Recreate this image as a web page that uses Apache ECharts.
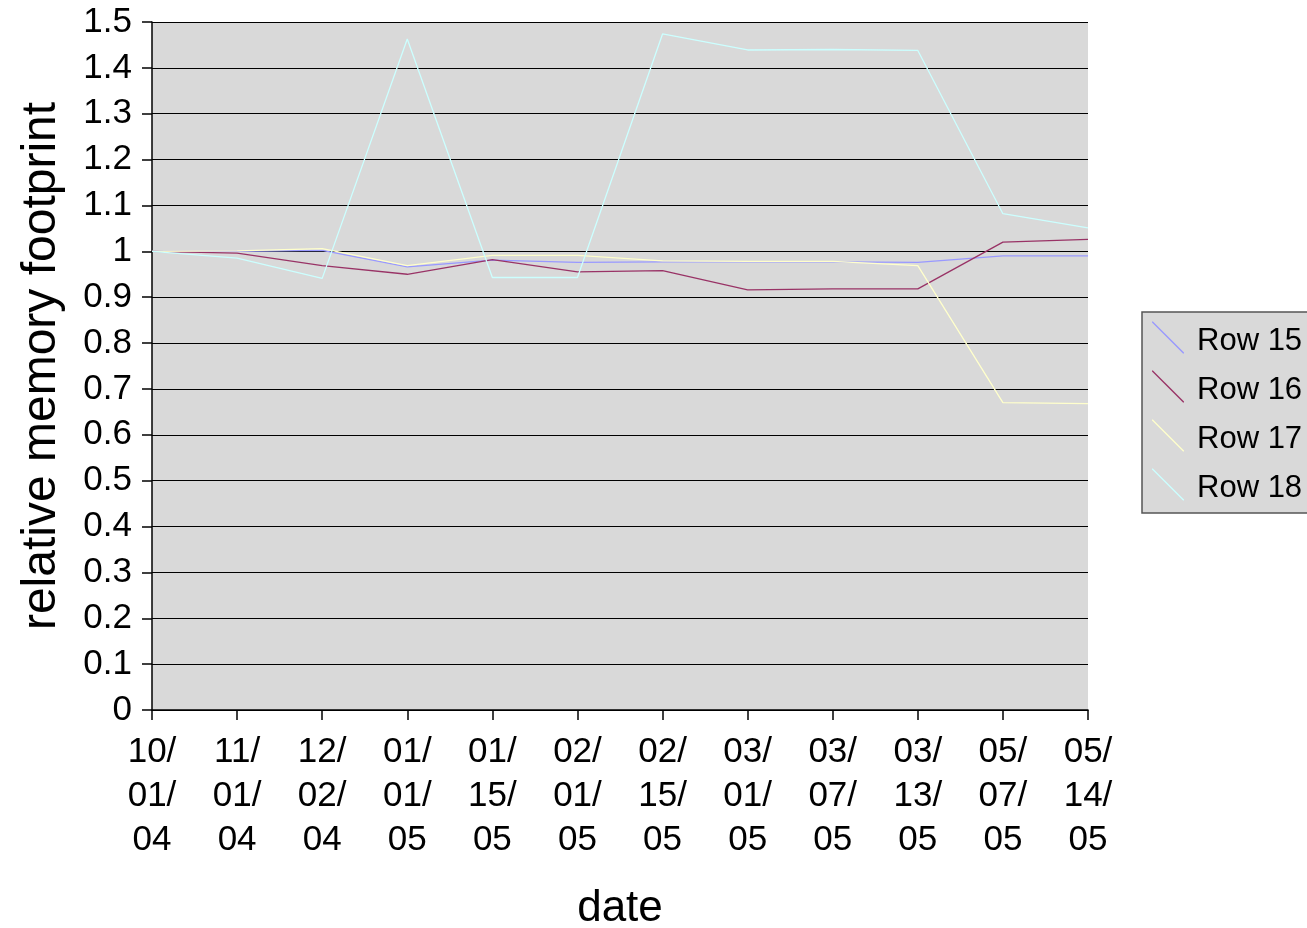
<!DOCTYPE html>
<html>
<head>
<meta charset="utf-8">
<script src="https://cdn.jsdelivr.net/npm/echarts@6/dist/echarts.min.js"></script>
<style>
html,body{margin:0;padding:0;background:#fff;}
#chart{width:1307px;height:928px;}
</style>
</head>
<body>
<div id="chart"></div>
<script>
const categories = ['10/\n01/\n04','11/\n01/\n04','12/\n02/\n04','01/\n01/\n05','01/\n15/\n05','02/\n01/\n05','02/\n15/\n05','03/\n01/\n05','03/\n07/\n05','03/\n13/\n05','05/\n07/\n05','05/\n14/\n05'];
const row15 = [1.0, 1.0, 1.002, 0.966, 0.981, 0.976, 0.977, 0.977, 0.977, 0.976, 0.990, 0.990];
const row16 = [1.0, 0.996, 0.969, 0.950, 0.982, 0.955, 0.958, 0.916, 0.918, 0.918, 1.020, 1.026];
const row17 = [1.0, 1.001, 1.006, 0.969, 0.991, 0.991, 0.979, 0.978, 0.978, 0.969, 0.670, 0.668];
const row18 = [1.0, 0.985, 0.941, 1.463, 0.943, 0.943, 1.474, 1.439, 1.440, 1.438, 1.082, 1.051];
const seriesNames = ['Row 15','Row 16','Row 17','Row 18'];
const colors = ['#9999ff','#993366','#ffffcc','#ccffff'];

const chart = echarts.init(document.getElementById('chart'));
const icon = 'path://M0,0L1.2,0L40,38.8L40,40L38.8,40L0,1.2Z';
const data = [row15,row16,row17,row18];
const FONT = 'Liberation Sans, Arial, sans-serif';
chart.setOption({
  animation:false,
  backgroundColor:'#ffffff',
  textStyle:{fontFamily:FONT},
  grid:{left:152,right:219,top:22,bottom:218,show:true,backgroundColor:'#d9d9d9',borderWidth:0,containLabel:false,outerBoundsMode:'none'},
  legend:{
    orient:'vertical',left:1142,top:312,
    backgroundColor:'#d9d9d9',borderColor:'#555',borderWidth:1.5,borderRadius:0,
    padding:[6,40,9,10],itemGap:10,itemWidth:32,itemHeight:32,
    formatter:(n)=>'{t|'+n+'}',
    textStyle:{fontSize:31,color:'#000',fontFamily:FONT,padding:[0,0,0,8],
      rich:{t:{fontSize:31,color:'#000',fontFamily:FONT,padding:[8,0,0,0],lineHeight:31}}},
    data:seriesNames.map((n)=>({name:n,icon:icon}))
  },
  xAxis:{
    type:'category',data:categories,boundaryGap:false,
    name:'date',nameLocation:'middle',nameGap:177,
    nameTextStyle:{fontSize:44,color:'#000'},
    axisLine:{lineStyle:{color:'#000',width:1.5}},
    axisTick:{show:true,inside:false,length:10,lineStyle:{color:'#000',width:1.5},alignWithLabel:true},
    axisLabel:{fontSize:35,color:'#000',lineHeight:44,margin:20,interval:0,align:'center'},
    splitLine:{show:false}
  },
  yAxis:{
    type:'value',min:0,max:1.5,interval:0.1,
    name:'relative memory footprint',nameLocation:'middle',nameGap:86,nameRotate:90,
    nameTextStyle:{fontSize:48,color:'#000'},
    axisLine:{show:true,lineStyle:{color:'#000',width:1.5}},
    axisTick:{show:true,inside:false,length:10,lineStyle:{color:'#000',width:1.5}},
    axisLabel:{fontSize:35,color:'#000',margin:20,formatter:(v)=>String(Math.round(v*10)/10)},
    splitLine:{show:true,lineStyle:{color:'#000',width:1}}
  },
  series:data.map((d,i)=>({
    name:seriesNames[i],type:'line',data:d,
    showSymbol:false,symbol:'none',
    lineStyle:{color:colors[i],width:1.3},
    itemStyle:{color:colors[i]},
    emphasis:{disabled:true}
  }))
});
</script>
</body>
</html>
